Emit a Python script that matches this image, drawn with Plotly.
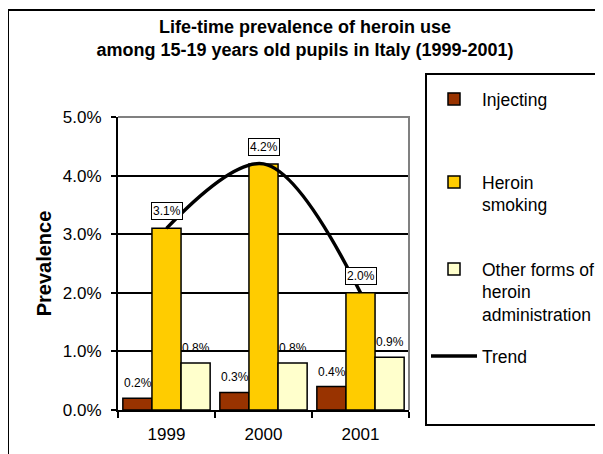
import plotly.graph_objects as go

# ---- data ----
years = ["1999", "2000", "2001"]
injecting = [0.2, 0.3, 0.4]
smoking = [3.1, 4.2, 2.0]
other = [0.8, 0.8, 0.9]
trend = [3.1, 4.2, 2.0]
series_names = ["Injecting", "Heroin<br>smoking", "Other forms of<br>heroin<br>administration", "Trend"]
y_ticks = [0, 1, 2, 3, 4, 5]
y_tick_labels = ["0.0%", "1.0%", "2.0%", "3.0%", "4.0%", "5.0%"]
title_text = "<b>Life-time prevalence of heroin use<br>among 15-19 years old pupils in Italy (1999-2001)</b>"

# page has an 8px body margin; figure sized to fit the window
OFF = 8
W, H = 603 - OFF, 454 - OFF
# plot area in page pixels
PL, PR, PT, PB = 118, 409, 117, 410
L, R, T, B = PL - OFF, PR - OFF, PT - OFF, PB - OFF

def px(x):  # page x -> paper
    return (x - PL) / (PR - PL)

def py(y):  # page y -> paper
    return (PB - y) / (PB - PT)

FONT = "Arial, Liberation Sans, sans-serif"

fig = go.Figure()
fig.add_trace(go.Bar(x=years, y=injecting, name=series_names[0], legend="legend",
                     marker=dict(color="#993300", line=dict(color="black", width=1.5))))
fig.add_trace(go.Bar(x=years, y=smoking, name=series_names[1], legend="legend2",
                     marker=dict(color="#FFCC00", line=dict(color="black", width=1.5))))
fig.add_trace(go.Bar(x=years, y=other, name=series_names[2], legend="legend3",
                     marker=dict(color="#FFFFCC", line=dict(color="black", width=1.5))))
fig.add_trace(go.Scatter(x=years, y=trend, name=series_names[3], mode="lines", legend="legend4",
                         line=dict(color="black", width=3.5, shape="spline", smoothing=1.0)))

annotations = []
for i, yr in enumerate(years):
    annotations.append(dict(x=i, y=injecting[i], xref="x", yref="y", text=f"{injecting[i]:.1f}%",
                            showarrow=False, xshift=-29, yshift=15,
                            font=dict(family=FONT, size=12, color="black")))
    annotations.append(dict(x=i, y=other[i], xref="x", yref="y", text=f"{other[i]:.1f}%",
                            showarrow=False, xshift=29, yshift=15,
                            font=dict(family=FONT, size=12, color="black")))
    annotations.append(dict(x=i, y=smoking[i], xref="x", yref="y", text=f"{smoking[i]:.1f}%",
                            showarrow=False, xshift=0, yshift=17, bgcolor="white",
                            bordercolor="black", borderwidth=1, borderpad=1,
                            font=dict(family=FONT, size=12, color="black")))

shapes = [
    # outer chart border
    dict(type="rect", xref="paper", yref="paper", x0=px(8), x1=px(640), y0=py(480), y1=py(10),
         line=dict(color="black", width=2), fillcolor="rgba(0,0,0,0)", layer="below"),
    # legend box
    dict(type="rect", xref="paper", yref="paper", x0=px(426), x1=px(601), y0=py(425), y1=py(74),
         line=dict(color="black", width=2), fillcolor="rgba(0,0,0,0)", layer="below"),
    # plot area gray top/right border
    dict(type="path", xref="paper", yref="paper",
         path="M 0,1 L 1,1 L 1,0", line=dict(color="#808080", width=2), layer="above"),
]

leg_common = dict(font=dict(family=FONT, size=17.5, color="black"), bgcolor="rgba(0,0,0,0)",
                  borderwidth=0, xanchor="left", yanchor="top", valign="top",
                  itemwidth=46, tracegroupgap=0)

LX = px(426)

fig.update_layout(
    width=W, height=H,
    margin=dict(l=L, r=W - R, t=T, b=H - B, autoexpand=False),
    paper_bgcolor="white", plot_bgcolor="white",
    font=dict(family=FONT, size=17, color="black"),
    title=dict(text=title_text, x=(305 - OFF) / W, xanchor="center", y=1 - (33 - OFF) / H,
               yanchor="middle", xref="container", yref="container",
               font=dict(family=FONT, size=18, color="black")),
    barmode="group", bargap=0.1, bargroupgap=0,
    showlegend=True,
    legend=dict(x=LX, y=py(100 - 19), **leg_common),
    legend2=dict(x=LX, y=py(183 - 19), **leg_common),
    legend3=dict(x=LX, y=py(270 - 19), **leg_common),
    legend4=dict(x=LX, y=py(357 - 19), **leg_common),
    xaxis=dict(type="category", showline=True, linecolor="black", linewidth=2,
               ticks="outside", ticklen=6, tickwidth=2, tickcolor="black", tickson="boundaries",
               tickfont=dict(family=FONT, size=17), showgrid=False, ticklabelstandoff=8),
    yaxis=dict(range=[0, 5], tickvals=y_ticks, ticktext=y_tick_labels, showline=True,
               linecolor="black", linewidth=2, ticks="outside", ticklen=5, tickwidth=2,
               tickcolor="black", showgrid=True, gridcolor="black", gridwidth=2,
               tickfont=dict(family=FONT, size=17), zeroline=False, ticklabelstandoff=6,
               title=dict(text="<b>Prevalence</b>", font=dict(family=FONT, size=20), standoff=6)),
    annotations=annotations,
    shapes=shapes,
)

fig.write_html("out.html")
